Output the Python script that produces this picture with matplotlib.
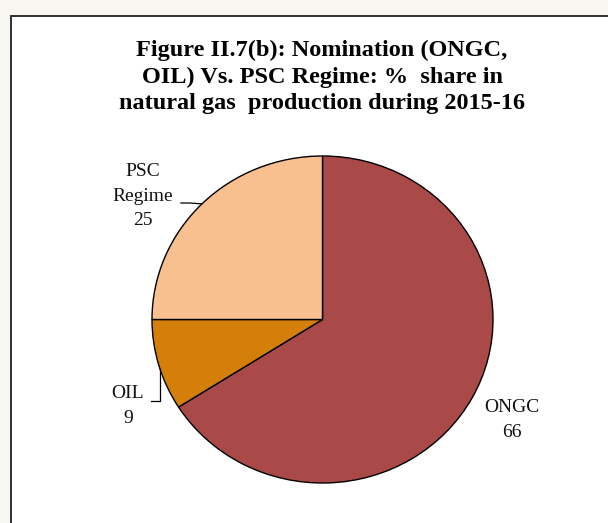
import numpy as np
import matplotlib.pyplot as plt
from matplotlib.patches import Rectangle

plt.rcParams['font.family'] = ['Liberation Serif', 'DejaVu Serif']

# 数据
labels = ['ONGC', 'OIL', 'PSC\nRegime']
shares = [66, 9, 25]
colors = ['#A94A48', '#D47F0A', '#F9C08F']

title = 'Figure II.7(b): Nomination (ONGC,\nOIL) Vs. PSC Regime: %  share in\nnatural gas  production during 2015-16'

fig = plt.figure(figsize=(6.08, 5.23), dpi=100)
fig.patch.set_facecolor('#F8F6F1')

# 白色图框
W, H = 608, 523
frame = Rectangle((11 / W, -0.05), 1.0, 1 - 16 / H + 0.05, transform=fig.transFigure,
                  facecolor='white', edgecolor='#222222', linewidth=1.3, zorder=-5)
fig.patches.append(frame)

fig.text(322 / W, 1 - 77 / H, title, ha='center', va='center', fontsize=17.5,
         fontweight='bold', linespacing=1.35)

# 饼图（原图略微横向拉伸）
cx, cy, rx, ry = 322.5, 319.5, 170.5, 163.5
ax = fig.add_axes([(cx - rx) / W, (H - cy - ry) / H, 2 * rx / W, 2 * ry / H])
ax.set_zorder(2)
ax.set_facecolor('none')
wedges, _ = ax.pie(shares, colors=colors, startangle=90, counterclock=False, radius=1.0,
                   wedgeprops=dict(edgecolor='black', linewidth=1.0))
ax.set_xlim(-1, 1)
ax.set_ylim(-1, 1)
ax.set_aspect('auto')
ax.axis('off')

# 标签位置
label_pos = [(1.111, -0.615), (-1.141, -0.529), (-1.053, 0.755)]
for lab, val, (lx, ly) in zip(labels, shares, label_pos):
    ax.text(lx, ly, f'{lab}\n{val}', ha='center', va='center', fontsize=14,
            linespacing=1.55, color='#111111', clip_on=False)

# 引导线
def mid_point(w, rad=1.0):
    ang = np.deg2rad((w.theta1 + w.theta2) / 2)
    return rad * np.cos(ang), rad * np.sin(ang)

px, py = mid_point(wedges[2])
ax.plot([-0.830, -0.777, px], [0.7125, 0.7125, py], color='black', lw=0.9, clip_on=False)
ox = -0.953
oy = -np.sqrt(1 - ox ** 2)
ax.plot([-1.006, ox, ox], [-0.498, -0.498, oy], color='black', lw=0.9, clip_on=False)

fig.savefig('out.png', dpi=100, facecolor=fig.get_facecolor())
